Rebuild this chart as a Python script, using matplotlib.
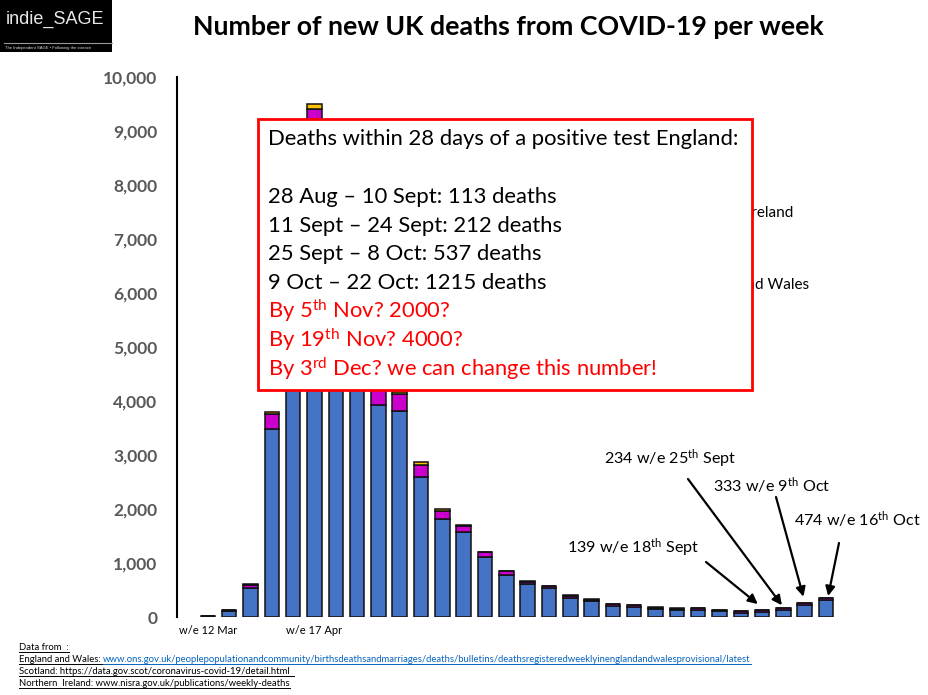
import matplotlib
matplotlib.use("Agg")
import matplotlib.pyplot as plt
from matplotlib.patches import Rectangle, Patch
from matplotlib.lines import Line2D
import numpy as np

plt.rcParams['font.family'] = ['Lato', 'DejaVu Sans']
plt.rcParams['mathtext.fontset'] = 'custom'
plt.rcParams['mathtext.rm'] = 'Lato'
plt.rcParams['mathtext.it'] = 'Lato:italic'
plt.rcParams['mathtext.bf'] = 'Lato:bold'

# weekly deaths, 30 weeks starting w/e 12 Mar
england_wales = [10, 103, 539, 3481, 6213, 8758, 8237, 6035, 3926, 3809,
                 2587, 1821, 1580, 1117, 784, 605, 531, 358, 296, 210,
                 191, 142, 130, 136, 111, 80, 99, 136, 228, 315]
scotland = [5, 25, 60, 278, 531, 649, 661, 605, 527, 327,
            222, 136, 99, 80, 64, 52, 40, 40, 25, 30,
            30, 30, 25, 30, 20, 25, 25, 30, 30, 35]
northern_ireland = [0, 2, 12, 43, 85, 93, 100, 80, 60, 31,
                    61, 49, 31, 13, 10, 10, 9, 9, 6, 7,
                    7, 7, 5, 7, 5, 6, 6, 7, 7, 8]
tick_idx = [0, 5]
tick_labels = ['w/e 12 Mar', 'w/e 17 Apr']

box_lines = [
    ("Deaths within 28 days of a positive test England:", 'black', 139),
    ("28 Aug – 10 Sept: 113 deaths", 'black', 197),
    ("11 Sept – 24 Sept: 212 deaths", 'black', 226),
    ("25 Sept – 8 Oct: 537 deaths", 'black', 254),
    ("9 Oct – 22 Oct: 1215 deaths", 'black', 283),
    (r"By 5$^{\mathrm{th}}$ Nov? 2000?", 'red', 311),
    (r"By 19$^{\mathrm{th}}$ Nov? 4000?", 'red', 340),
    (r"By 3$^{\mathrm{rd}}$ Dec? we can change this number!", 'red', 369),
]

W, H = 929, 695
fig = plt.figure(figsize=(W / 100, H / 100), dpi=100)


def fx(px):
    return px / W


def fy(py):
    return 1 - py / H


ax = fig.add_axes([fx(177), fy(617), fx(858) - fx(177), fy(77) - fy(617)])
x = np.arange(len(england_wales))
ew = np.array(england_wales)
sc = np.array(scotland)
ni = np.array(northern_ireland)
total = ew + sc + ni

bw = 0.68
ax.bar(x, ew, width=bw, color='#4472C4', edgecolor='#111111', linewidth=1.1)
ax.bar(x, sc, bottom=ew, width=bw, color='#CC00CC', edgecolor='#111111', linewidth=1.1)
ax.bar(x, ni, bottom=ew + sc, width=bw, color='#FFC000', edgecolor='#111111', linewidth=1.1)

ax.set_xlim(-1.45, 30.5)
ax.set_ylim(0, 10000)
yt = list(range(0, 10001, 1000))
ax.set_yticks(yt, [f'{v:,}' for v in yt], fontsize=12.5, fontweight='bold', color='#595959')
ax.set_xticks(tick_idx, tick_labels, fontsize=8)
ax.tick_params(axis='both', length=0)
ax.tick_params(axis='y', pad=14)
ax.tick_params(axis='x', pad=6)
for s in ['top', 'right', 'bottom']:
    ax.spines[s].set_visible(False)
ax.spines['left'].set_linewidth(1.5)

handles = [Patch(facecolor='#FFC000', edgecolor='#111111', label='Northern Ireland'),
           Patch(facecolor='#CC00CC', edgecolor='#111111', label='Scotland'),
           Patch(facecolor='#4472C4', edgecolor='#111111', label='England and Wales')]
ax.legend(handles=handles, loc='upper left', bbox_to_anchor=(fx(624), fy(192)),
          bbox_transform=fig.transFigure, frameon=False, fontsize=11,
          labelspacing=1.45, handletextpad=0.8)

# title
fig.text(fx(508), fy(27), 'Number of new UK deaths from COVID-19 per week',
         fontsize=19.3, fontweight='bold', ha='center', va='center')

# red box
fig.add_artist(Rectangle((fx(258), fy(390)), fx(752) - fx(258), fy(119) - fy(390),
                         transform=fig.transFigure, facecolor='white', edgecolor='red',
                         lw=2, zorder=10))
for s, c, y in box_lines:
    fig.text(fx(268), fy(y), s, fontsize=15.8, color=c, va='center', zorder=11)

# annotations
notes = [
    (r"139 w/e 18$^{\mathrm{th}}$ Sept", 567, 548, 706, 562, 26, -0.2, 110),
    (r"234 w/e 25$^{\mathrm{th}}$ Sept", 604, 459, 688, 479, 27, -0.07, 45),
    (r"333 w/e 9$^{\mathrm{th}}$ Oct", 713, 486, 776, 497, 28, -0.06, 110),
    (r"474 w/e 16$^{\mathrm{th}}$ Oct", 794, 520, 839, 543, 29, 0.1, 30),
]
for s, tx, ty, ax0, ay0, i, dx, dy in notes:
    fig.text(fx(tx), fy(ty), s, fontsize=11.6, va='center')
    ax.annotate('', xy=(i + dx, total[i] + dy), xycoords='data',
                xytext=(fx(ax0), fy(ay0)), textcoords='figure fraction',
                arrowprops=dict(arrowstyle='-|>', color='black', lw=1.6,
                                mutation_scale=14, shrinkA=0, shrinkB=0))

# logo
fig.add_artist(Rectangle((0, fy(52)), fx(112), 1 - fy(52), transform=fig.transFigure,
                         facecolor='black', edgecolor='none', zorder=5))
fig.text(fx(55), fy(19), 'indie_SAGE', color='#e8e8e8', fontsize=13,
         family='Liberation Sans', ha='center', va='center', zorder=6)
fig.add_artist(Line2D([fx(4), fx(112)], [fy(43), fy(43)], transform=fig.transFigure,
                      color='#999999', lw=0.8, zorder=6))
fig.text(fx(5), fy(48), 'The Independent SAGE \u2022 Following the science', color='#dddddd',
         fontsize=3, family='Liberation Sans', va='center', zorder=6)

# footnotes with underline
renderer = fig.canvas.get_renderer()


def underline(t, color):
    bb = t.get_window_extent(renderer=renderer)
    y = bb.y0 - 0.5
    fig.add_artist(Line2D([bb.x0 / W, bb.x1 / W], [y / H, y / H], transform=fig.transFigure,
                          color=color, lw=0.7))
    return bb


fs = 6.8
t = fig.text(fx(19), fy(647), 'Data from  :', fontsize=fs, va='center')
underline(t, 'black')
t = fig.text(fx(19), fy(659), 'England and Wales: ', fontsize=fs, va='center')
bb = underline(t, 'black')
t = fig.text(bb.x1 / W, fy(659),
             'www.ons.gov.uk/peoplepopulationandcommunity/birthsdeathsandmarriages/deaths/bulletins/'
             'deathsregisteredweeklyinenglandandwalesprovisional/latest',
             fontsize=fs, va='center', color='#0563C1')
underline(t, '#0563C1')
t = fig.text(fx(19), fy(671), 'Scotland: https://data.gov.scot/coronavirus-covid-19/detail.html  ',
             fontsize=fs, va='center')
underline(t, 'black')
t = fig.text(fx(19), fy(683), 'Northern  Ireland: www.nisra.gov.uk/publications/weekly-deaths',
             fontsize=fs, va='center')
underline(t, 'black')

fig.savefig('out.png', dpi=100)
